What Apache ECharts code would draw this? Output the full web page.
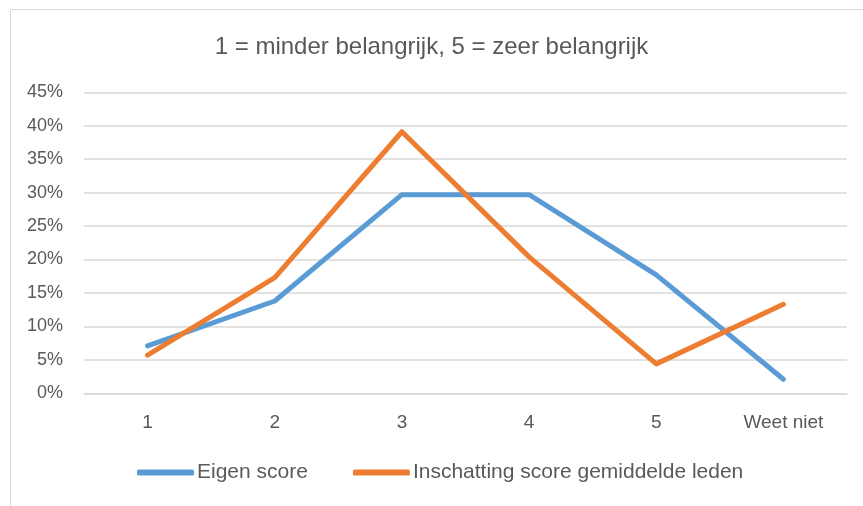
<!DOCTYPE html>
<html>
<head>
<meta charset="utf-8">
<script src="https://cdn.jsdelivr.net/npm/echarts@6/dist/echarts.min.js"></script>
<style>
html,body{margin:0;padding:0;background:#fff;}
#chart{width:863px;height:506px;}
</style>
</head>
<body>
<div id="chart"></div>
<script>
const titleText = '1 = minder belangrijk, 5 = zeer belangrijk';
const categories = ['1', '2', '3', '4', '5', 'Weet niet'];
const eigenScore = [7.1, 13.8, 29.7, 29.7, 17.7, 2.1];
const inschatting = [5.7, 17.3, 39.1, 20.4, 4.4, 13.3];
const seriesNames = ['Eigen score', 'Inschatting score gemiddelde leden'];
const yTicks = [0, 5, 10, 15, 20, 25, 30, 35, 40, 45];

const FONT = '"Liberation Sans", Arial, sans-serif';
const TXT = '#595959';
const chart = echarts.init(document.getElementById('chart'), null, {renderer: 'canvas'});
chart.setOption({
  backgroundColor: '#ffffff',
  animation: false,
  graphic: [{
    type: 'rect',
    shape: {x: 10.5, y: 9.5, width: 900, height: 600},
    style: {fill: 'none', stroke: '#d9d9d9', lineWidth: 1},
    silent: true
  }],
  title: {
    text: titleText,
    left: 'center',
    top: 35,
    padding: 0,
    textStyle: {fontFamily: FONT, fontSize: 24, fontWeight: 'normal', color: TXT}
  },
  legend: {
    left: 137,
    top: 462,
    padding: 0,
    itemWidth: 57,
    itemHeight: 6,
    itemGap: 45,
    icon: 'roundRect',
    textStyle: {fontFamily: FONT, fontSize: 21, color: TXT, padding: [0, 0, 0, -2]},
    data: seriesNames
  },
  grid: {left: 84, right: 16, top: 92.3, bottom: 112.7, containLabel: false},
  xAxis: {
    type: 'category',
    data: categories,
    boundaryGap: true,
    axisLine: {show: true, lineStyle: {color: '#d9d9d9', width: 1.5}},
    axisTick: {show: false},
    axisLabel: {fontFamily: FONT, fontSize: 19, color: TXT, margin: 20}
  },
  yAxis: {
    type: 'value',
    min: yTicks[0],
    max: yTicks[yTicks.length - 1],
    interval: yTicks[1] - yTicks[0],
    axisLine: {show: false},
    axisTick: {show: false},
    splitLine: {lineStyle: {color: '#d9d9d9', width: 1.5}},
    axisLabel: {fontFamily: FONT, fontSize: 18, color: TXT, margin: 21, formatter: '{value}%', padding: [3, 0, 0, 0]}
  },
  series: [{
    name: seriesNames[0],
    type: 'line',
    data: eigenScore,
    symbol: 'none',
    color: '#5B9BD5',
    lineStyle: {width: 5, color: '#5B9BD5', cap: 'round', join: 'round'}
  }, {
    name: seriesNames[1],
    type: 'line',
    data: inschatting,
    symbol: 'none',
    color: '#ED7D31',
    lineStyle: {width: 5, color: '#ED7D31', cap: 'round', join: 'round'}
  }]
});
</script>
</body>
</html>
